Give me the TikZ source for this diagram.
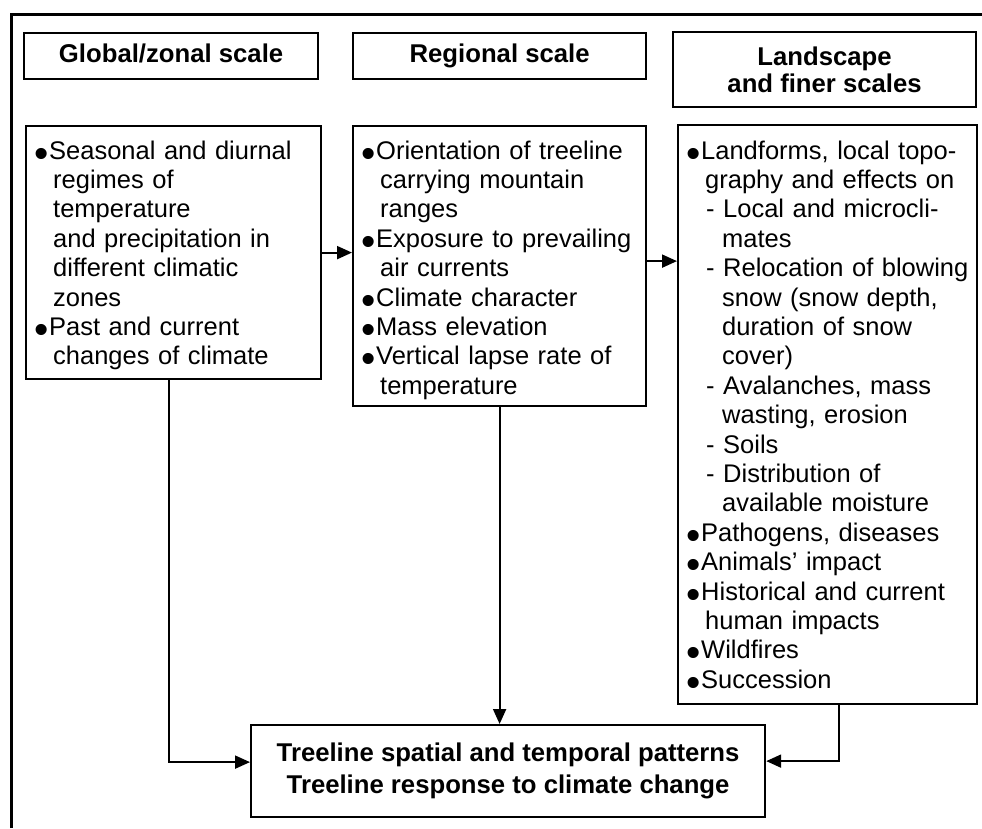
\documentclass[tikz,border=0pt]{standalone}
\usepackage{fontspec}
\usepackage{graphicx}
\setmainfont{Liberation Sans}
\usetikzlibrary{arrows.meta}
\newcommand\bul{\makebox[14pt][l]{\hspace*{-1pt}\smash{\raisebox{-8pt}{\scalebox{1.6}{\textbullet}}}}}
\newcommand\ind{\hspace*{18pt}}
\newcommand\dsh{\hspace*{19pt}-\ }
\newcommand\dind{\hspace*{35pt}}
\begin{document}
\begin{tikzpicture}[x=1pt,y=-1pt,
  box/.style={draw, line width=2.2pt, inner sep=0pt, anchor=north west},
  hdr/.style={box, font=\bfseries\fontsize{25.7}{27}\selectfont, align=center},
  oneline/.style={text height=18.5pt, text depth=5.5pt},
  body/.style={anchor=base west, inner sep=0pt, text width=320pt, align=left, font=\fontsize{25.5}{29.4}\selectfont},
  arr/.style={line width=2pt, -{Triangle[length=15pt,width=13pt]}},
  frame/.style={line width=3pt}
]
\useasboundingbox (0,0) rectangle (982,828);
% outer frame (open at right and bottom)
\coordinate (fbl) at (11,828);
\coordinate (ftl) at (11,14);
\coordinate (ftr) at (982,14);
\draw[frame] (fbl) -- (ftl) -- (ftr);
% headers
\node[hdr, oneline, minimum width=294pt, minimum height=46pt] (h1) at (23,32) {Global/zonal scale};
\node[hdr, oneline, minimum width=293pt, minimum height=46pt] (h2) at (352,32) {Regional scale};
\node[hdr, minimum width=303pt, minimum height=75pt] (h3) at (672,31) {Landscape\\and finer scales};
% content boxes
\node[box, minimum width=295pt, minimum height=253pt] (lbox) at (25,125) {};
\node[box, minimum width=293pt, minimum height=280pt] (mbox) at (352,125) {};
\node[box, minimum width=299pt, minimum height=579pt] (rbox) at (677,124) {};
% texts
\node[body] (ltext) at (35,159) {\bul Seasonal and diurnal\\
\ind regimes of\\
\ind temperature\\
\ind and precipitation in\\
\ind different climatic\\
\ind zones\\
\bul Past and current\\
\ind changes of climate};
\node[body] (mtext) at (362,159) {\bul Orientation of treeline\\
\ind carrying mountain\\
\ind ranges\\
\bul Exposure to prevailing\\
\ind air currents\\
\bul Climate character\\
\bul Mass elevation\\
\bul Vertical lapse rate of\\
\ind temperature};
\node[body] (rtext) at (687,159) {\bul Landforms, local topo-\\
\ind graphy and effects on\\
\dsh Local and microcli-\\
\dind mates\\
\dsh Relocation of blowing\\
\dind snow (snow depth,\\
\dind duration of snow\\
\dind cover)\\
\dsh Avalanches, mass\\
\dind wasting, erosion\\
\dsh Soils\\
\dsh Distribution of\\
\dind available moisture\\
\bul Pathogens, diseases\\
\bul Animals' impact\\
\bul Historical and current\\
\ind human impacts\\
\bul Wildfires\\
\bul Succession};
% bottom box
\node[box, align=center, minimum width=514pt, minimum height=92pt,
  font=\bfseries\fontsize{25.7}{32}\selectfont] (bbox) at (250,724)
  {Treeline spatial and temporal patterns\\Treeline response to climate change};
% connectors
\draw[arr] (lbox.east) -- (lbox.east -| mbox.west);
\draw[arr] ([yshift=5pt]mbox.east) -- ([yshift=5pt]mbox.east -| rbox.west);
\draw[arr] ([xshift=-5pt]lbox.south) |- ([yshift=9pt]bbox.west);
\draw[arr] (mbox.south) -- (mbox.south |- bbox.north);
\draw[arr] ([xshift=11pt]rbox.south) |- ([yshift=10pt]bbox.east);
\end{tikzpicture}
\end{document}
